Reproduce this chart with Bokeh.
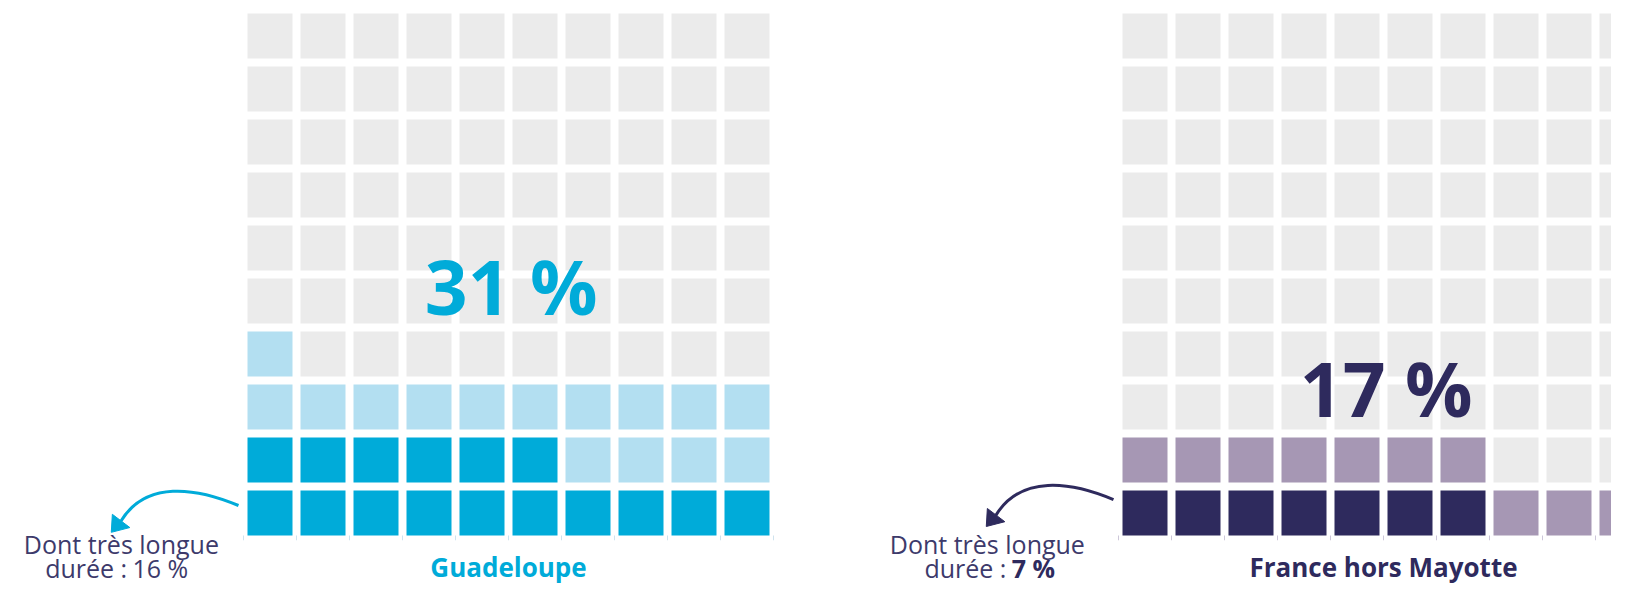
from bokeh.plotting import figure
from bokeh.models import Range1d, ColumnDataSource
from bokeh.core.properties import value
from bokeh.embed import file_html
from bokeh.resources import INLINE

# ---------------- data ----------------
categories = ["Guadeloupe", "France hors Mayotte"]
total_pct = [31, 17]          # demandeurs d'emploi de longue durée (%)
very_long_pct = [16, 7]       # dont très longue durée (%)
big_labels = ["31 %", "17 %"]
note_line1 = ["Dont très longue", "Dont très longue"]
note_line2a = ["durée :", "durée :"]
note_line2b = ["16  %", "7 %"]

# ---------------- styles ----------------
dark_colors = ["#00abd9", "#2e2a5d"]
light_colors = ["#b3dff1", "#a697b4"]
empty_color = "#ebebeb"
tick_colors = ["#cfe3ee", "#cdc7d9"]
note_color = "#3d3a6b"
value_styles = ["normal", "bold"]
value_colors = [note_color, "#2e2a5d"]

# ---------------- layout (1 unit = one cell pitch = 53 px) ----------------
W, H = 1611, 585
PX = 53
CELL = 45 / PX
GAP = 1 - CELL
PANEL_X0 = [0.0, 875 / PX]
BIG_Y = [4.71, 2.78]
TITLE_Y = -0.585
NOTE_DX = [-2.38, -2.55]
NOTE_Y1 = -0.165
NOTE_Y2 = -0.61
SPLIT_DX = [-2.27, -2.19]
ARROW_DY = [0.0, 0.11]
GRID_C = (9 + CELL) / 2

p = figure(width=W, height=H, output_backend="svg", toolbar_location=None,
           x_range=Range1d(-247 / PX, (W - 247) / PX),
           y_range=Range1d((535 - H) / PX, 535 / PX),
           min_border=0)
p.axis.visible = False
p.grid.visible = False
p.outline_line_color = None
p.background_fill_color = "white"
p.border_fill_color = "white"

for k, cat in enumerate(categories):
    x0 = PANEL_X0[k]
    lefts, bottoms, colors = [], [], []
    for i in range(100):
        row, col = divmod(i, 10)
        lefts.append(x0 + col)
        bottoms.append(row)
        if i < very_long_pct[k]:
            colors.append(dark_colors[k])
        elif i < total_pct[k]:
            colors.append(light_colors[k])
        else:
            colors.append(empty_color)
    src = ColumnDataSource(dict(left=lefts, right=[l + CELL for l in lefts],
                                bottom=bottoms, top=[b + CELL for b in bottoms],
                                color=colors))
    p.quad(left="left", right="right", bottom="bottom", top="top",
           fill_color="color", line_color=None, source=src)

    # tiny ticks under the bottom row
    tx = [x0 + c - GAP / 2 for c in range(11)]
    p.segment(x0=tx, y0=[0.0] * 11, x1=tx, y1=[-0.09] * 11,
              line_color=tick_colors[k], line_width=1)

    # big percentage
    p.text(x=[x0 + GRID_C + 0.05], y=[BIG_Y[k]], text=[big_labels[k]],
           text_font=value("Open Sans"), text_font_style="bold",
           text_font_size="75px", text_color=dark_colors[k],
           text_align="center", text_baseline="middle")

    # title
    p.text(x=[x0 + GRID_C], y=[TITLE_Y], text=[cat],
           text_font=value("Open Sans"), text_font_style="bold",
           text_font_size="26px", text_color=dark_colors[k],
           text_align="center", text_baseline="middle")

    # note
    p.text(x=[x0 + NOTE_DX[k]], y=[NOTE_Y1], text=[note_line1[k]],
           text_font=value("Open Sans"), text_font_size="25px",
           text_color=note_color, text_align="center", text_baseline="middle")
    p.text(x=[x0 + SPLIT_DX[k]], y=[NOTE_Y2], text=[note_line2a[k]],
           text_font=value("Open Sans"), text_font_size="25px",
           text_color=note_color, text_align="right", text_baseline="middle")
    p.text(x=[x0 + SPLIT_DX[k] + 0.1], y=[NOTE_Y2], text=[note_line2b[k]],
           text_font=value("Open Sans"), text_font_size="25px",
           text_font_style=value_styles[k],
           text_color=value_colors[k], text_align="left", text_baseline="middle")

    # curved arrow
    dy = ARROW_DY[k]
    p.bezier(x0=[x0 - 0.17], y0=[0.566 + dy], x1=[x0 - 2.39], y1=[0.27 + dy],
             cx0=[x0 - 0.98], cy0=[0.906 + dy], cx1=[x0 - 1.92], cy1=[1.04 + dy],
             line_color=dark_colors[k], line_width=3)
    p.patch(x=[x0 - 2.57, x0 - 2.55, x0 - 2.22],
            y=[0.06 + dy, 0.40 + dy, 0.15 + dy],
            fill_color=dark_colors[k], line_color=dark_colors[k], line_width=1)

open("out.html", "w").write(file_html(p, INLINE))
